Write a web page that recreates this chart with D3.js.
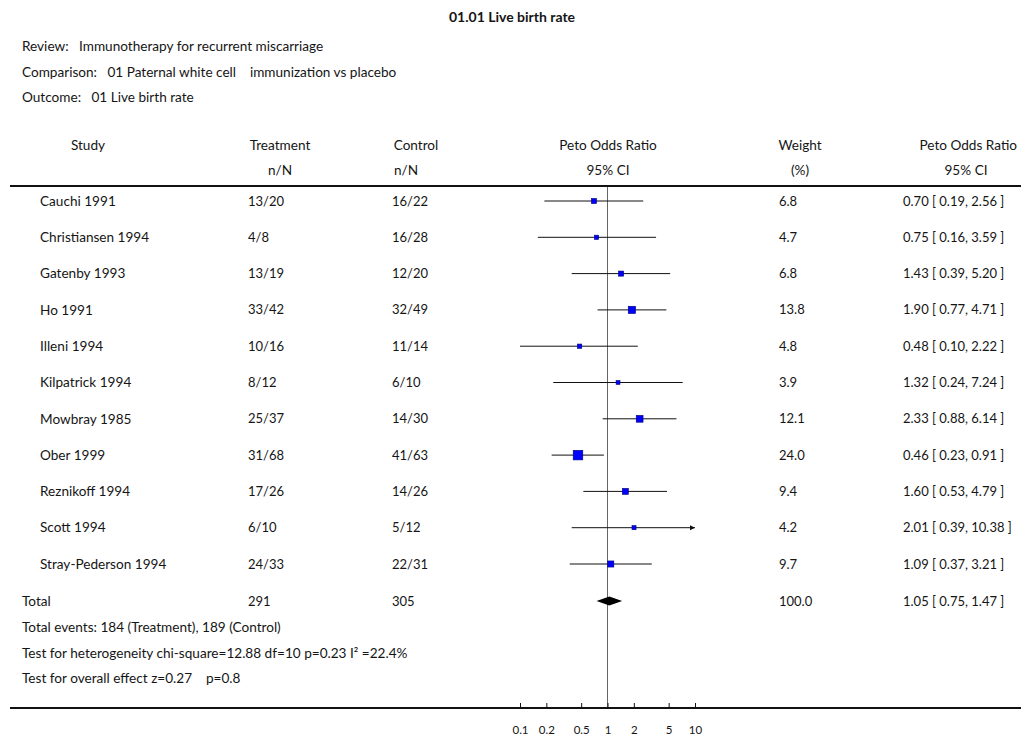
<!DOCTYPE html>
<html><head><meta charset="utf-8">
<script src="https://cdn.jsdelivr.net/npm/d3@7"></script>
<style>
body{margin:0;background:#fff;}
text{font-family:Lato,"Open Sans",sans-serif;fill:#151515;white-space:pre;}
</style></head>
<body><svg id="c" width="1021" height="740"></svg>
<script>
const studies = ["Cauchi 1991","Christiansen 1994","Gatenby 1993","Ho 1991","Illeni 1994","Kilpatrick 1994","Mowbray 1985","Ober 1999","Reznikoff 1994","Scott 1994","Stray-Pederson 1994"];
const treatment = ["13/20","4/8","13/19","33/42","10/16","8/12","25/37","31/68","17/26","6/10","24/33"];
const control = ["16/22","16/28","12/20","32/49","11/14","6/10","14/30","41/63","14/26","5/12","22/31"];
const weights = [6.8,4.7,6.8,13.8,4.8,3.9,12.1,24.0,9.4,4.2,9.7];
const oddsRatio = [0.70,0.75,1.43,1.90,0.48,1.32,2.33,0.46,1.60,2.01,1.09];
const ciLow = [0.19,0.16,0.39,0.77,0.10,0.24,0.88,0.23,0.53,0.39,0.37];
const ciHigh = [2.56,3.59,5.20,4.71,2.22,7.24,6.14,0.91,4.79,10.38,3.21];
const total = {treatment:"291", control:"305", weight:"100.0", or:1.05, lo:0.75, hi:1.47};
const tickValues = [0.1,0.2,0.5,1,2,5,10];
const tickLabels = ["0.1","0.2","0.5","1","2","5","10"];
const infoLines = ["Review:   Immunotherapy for recurrent miscarriage","Comparison:   01 Paternal white cell    immunization vs placebo","Outcome:   01 Live birth rate"];
const footLines = ["Total events: 184 (Treatment), 189 (Control)","Test for heterogeneity chi-square=12.88 df=10 p=0.23 I\u00b2 =22.4%","Test for overall effect z=0.27    p=0.8"];

const svg = d3.select("#c");
const x = d3.scaleLog().domain([0.1,10]).range([520,695]);
const y = d3.scalePoint().domain(studies).range([201,564]);
const box = d3.scaleSqrt().domain([0,24]).range([0,9.6]);
const fmt = d3.format(".2f");
const FS = 13.6, FN = 13;

svg.append("text").attr("x",512).attr("y",22).attr("text-anchor","middle")
  .attr("font-size",14).attr("font-weight","bold").text("01.01 Live birth rate");
infoLines.forEach((t,i)=>svg.append("text").attr("x",22).attr("y",51+i*25.5)
  .attr("font-size",FS).text(t));

// headers
const h1 = 150, h2 = 175;
const hdr = [["Study",88,h1,"middle"],["Treatment",280,h1,"middle"],["n/N",280,h2,"middle"],
  ["Control",416,h1,"middle"],["n/N",406,h2,"middle"],["Peto Odds Ratio",608,h1,"middle"],["95% CI",608,h2,"middle"],
  ["Weight",800,h1,"middle"],["(%)",800,h2,"middle"],["Peto Odds Ratio",1017,h1,"end"],["95% CI",966,h2,"middle"]];
hdr.forEach(d=>svg.append("text").attr("x",d[1]).attr("y",d[2]).attr("text-anchor",d[3]).attr("font-size",FS).text(d[0]));

svg.append("line").attr("x1",10).attr("x2",1021).attr("y1",186).attr("y2",186).attr("stroke","#111").attr("stroke-width",2);

// null line
svg.append("line").attr("x1",x(1)).attr("x2",x(1)).attr("y1",187).attr("y2",708).attr("stroke","#666").attr("stroke-width",1);

const rows = svg.append("g").selectAll("g").data(studies).join("g").attr("transform",d=>`translate(0,${y(d)})`);
rows.append("text").attr("x",40).attr("dy","0.35em").attr("font-size",FS).text(d=>d);
rows.append("text").attr("x",248).attr("dy","0.35em").attr("font-size",FN).text((d,i)=>treatment[i]);
rows.append("text").attr("x",392).attr("dy","0.35em").attr("font-size",FN).text((d,i)=>control[i]);
rows.append("text").attr("x",779).attr("dy","0.35em").attr("font-size",FN).text((d,i)=>weights[i].toFixed(1));
rows.append("text").attr("x",903).attr("dy","0.35em").attr("font-size",FN)
  .text((d,i)=>`${fmt(oddsRatio[i])} [ ${fmt(ciLow[i])}, ${fmt(ciHigh[i])} ]`);
const clampX = v => x(Math.max(0.1,Math.min(10,v)));
rows.append("line").attr("x1",(d,i)=>clampX(ciLow[i])).attr("x2",(d,i)=>clampX(ciHigh[i]))
  .attr("y1",0).attr("y2",0).attr("stroke","#111").attr("stroke-width",1);
rows.filter((d,i)=>ciHigh[i]>10).append("path")
  .attr("d",`M${x(10)},0 l-5,-2.5 l0,5 z`).attr("fill","#111");
rows.append("rect").attr("x",(d,i)=>x(oddsRatio[i])-box(weights[i])/2).attr("y",(d,i)=>-box(weights[i])/2)
  .attr("width",(d,i)=>box(weights[i])).attr("height",(d,i)=>box(weights[i]))
  .attr("fill","#0000ff").attr("stroke","#00007a").attr("stroke-width",0.6);

// total
const ty = 601;
svg.append("text").attr("x",22).attr("y",ty).attr("dy","0.35em").attr("font-size",FS).text("Total");
svg.append("text").attr("x",248).attr("y",ty).attr("dy","0.35em").attr("font-size",FN).text(total.treatment);
svg.append("text").attr("x",392).attr("y",ty).attr("dy","0.35em").attr("font-size",FN).text(total.control);
svg.append("text").attr("x",779).attr("y",ty).attr("dy","0.35em").attr("font-size",FN).text(total.weight);
svg.append("text").attr("x",903).attr("y",ty).attr("dy","0.35em").attr("font-size",FN)
  .text(`${fmt(total.or)} [ ${fmt(total.lo)}, ${fmt(total.hi)} ]`);
svg.append("path").attr("d",`M${x(total.lo)},${ty} L${x(total.or)},${ty-4.5} L${x(total.hi)},${ty} L${x(total.or)},${ty+4.5} Z`).attr("fill","#000");

footLines.forEach((t,i)=>svg.append("text").attr("x",22).attr("y",632+i*25.5)
  .attr("font-size",FS).text(t));

// axis
svg.append("line").attr("x1",10).attr("x2",1021).attr("y1",708).attr("y2",708).attr("stroke","#111").attr("stroke-width",2);
const ax = svg.append("g").attr("transform","translate(0,708)")
  .call(d3.axisBottom(x).tickValues(tickValues).tickFormat((d,i)=>tickLabels[i]).tickSizeInner(-5).tickSizeOuter(0).tickPadding(18));
ax.select(".domain").remove();
ax.selectAll("text").attr("font-family","Lato,sans-serif").attr("font-size",11.5).attr("fill","#151515");
ax.selectAll("line").attr("stroke","#111");
</script></body></html>
